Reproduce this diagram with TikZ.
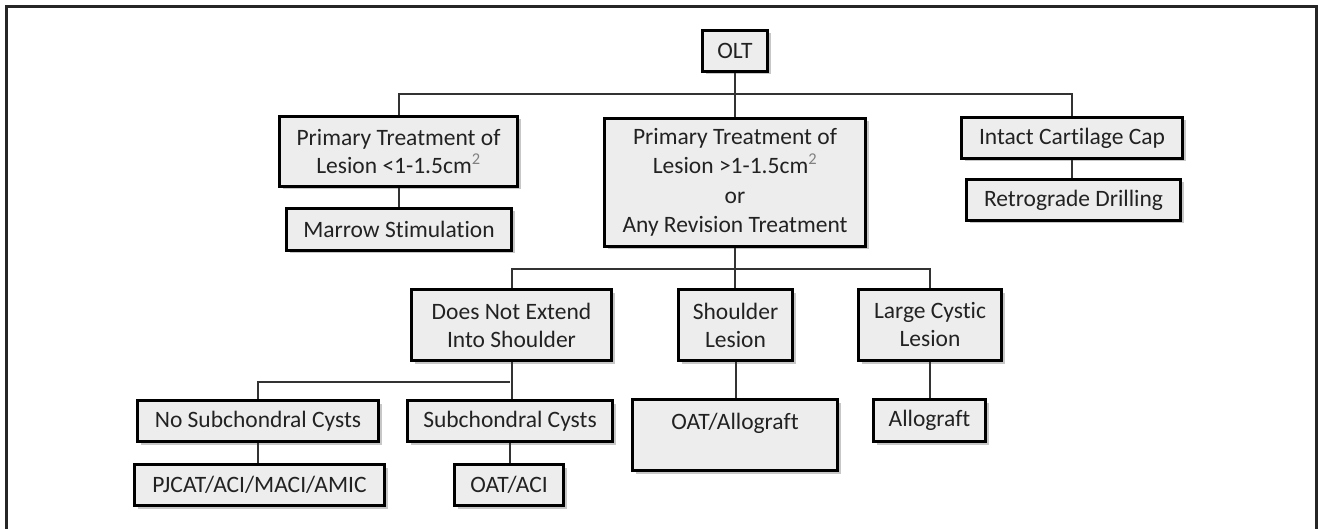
\documentclass[tikz,border=0pt]{standalone}
\usepackage{fontspec}
\setmainfont[Ligatures=NoCommon]{Carlito}
\usetikzlibrary{shadows}
\definecolor{boxfill}{HTML}{EDEDED}
\definecolor{textc}{HTML}{222222}
\definecolor{linec}{HTML}{333333}
\newcommand{\boxfont}{\fontsize{23.5}{28}\selectfont}
\newcommand{\sqr}{\textsuperscript{\color{gray}2}}
\tikzset{
  box/.style={draw=black, line width=3.3pt, fill=boxfill, inner sep=0pt, align=center,
    font=\boxfont, text=textc,
    drop shadow={shadow xshift=3pt, shadow yshift=-3pt, fill=black, opacity=0.22}},
  conn/.style={draw=linec, line width=2pt},
  frame/.style={draw=black!85, line width=2.2pt}
}
\begin{document}
\begin{tikzpicture}[x=1pt,y=-1pt]
\useasboundingbox (0,0) rectangle (1319,529);
\coordinate (fbl) at (6.5,540);
\coordinate (ftl) at (6.5,6.5);
\coordinate (ftr) at (1316.5,6.5);
\coordinate (fbr) at (1316.5,540);
\draw[frame] (fbl) -- (ftl) -- (ftr) -- (fbr);

% level 0
\node[box, minimum width=65, minimum height=41] (olt) at (735,51) {OLT};
% level 1
\node[box, minimum width=238, minimum height=70] (left) at (398.5,151.5) {Primary Treatment of\\Lesion <1-1.5cm\sqr};
\node[box, minimum width=225, minimum height=42] (marrow) at (399,229.5) {Marrow Stimulation};
\node[box, minimum width=261, minimum height=128, font=\fontsize{23.5}{29.5}\selectfont] (mid) at (735,182.5) {Primary Treatment of\\Lesion >1-1.5cm\sqr\\or\\Any Revision Treatment};
\node[box, minimum width=221, minimum height=41] (intact) at (1072,138) {Intact Cartilage Cap};
\node[box, minimum width=214, minimum height=41] (retro) at (1073.5,200) {Retrograde Drilling};
% level 2
\node[box, minimum width=200, minimum height=71] (dne) at (511.5,325) {Does Not Extend\\Into Shoulder};
\node[box, minimum width=114, minimum height=71] (shoulder) at (735.5,325) {Shoulder\\Lesion};
\node[box, minimum width=143, minimum height=71] (large) at (930,325) {Large Cystic\\Lesion};
% level 3
\node[box, minimum width=241, minimum height=41] (nosub) at (258,421) {No Subchondral Cysts};
\node[box, minimum width=205, minimum height=41] (sub) at (510,421) {Subchondral Cysts};
\node[box, minimum width=205, minimum height=71] (oatall) at (735,435) {OAT/Allograft\\~};
\node[box, minimum width=112, minimum height=42] (allo) at (929.5,420.5) {Allograft};
% level 4
\node[box, minimum width=250, minimum height=41] (pj) at (259.5,485) {PJCAT/ACI/MACI/AMIC};
\node[box, minimum width=109, minimum height=41] (oataci) at (509,485) {OAT/ACI};

% hubs
\coordinate (h1) at (735,94);
\coordinate (h2) at (735,269);
\coordinate (h3) at (510,382);

\draw[conn] (olt.south) -- (mid.north);
\draw[conn] (left.north) |- (h1) -| (intact.north);
\draw[conn] (left.south) -- (left.south |- marrow.north);
\draw[conn] (intact.south) -- (intact.south |- retro.north);
\draw[conn] (mid.south) -- (shoulder.north -| mid.south);
\draw[conn] (dne.north) |- (h2) -| (large.north);
\draw[conn] (shoulder.south) -- (shoulder.south |- oatall.north);
\draw[conn] (large.south) -- (large.south |- allo.north);
\draw[conn] (dne.south) -- (dne.south |- sub.north);
\draw[conn] (nosub.north) |- (h3);
\draw[conn] (nosub.south) -- (nosub.south |- pj.north);
\draw[conn] (sub.south) -- (sub.south |- oataci.north);
\end{tikzpicture}
\end{document}
